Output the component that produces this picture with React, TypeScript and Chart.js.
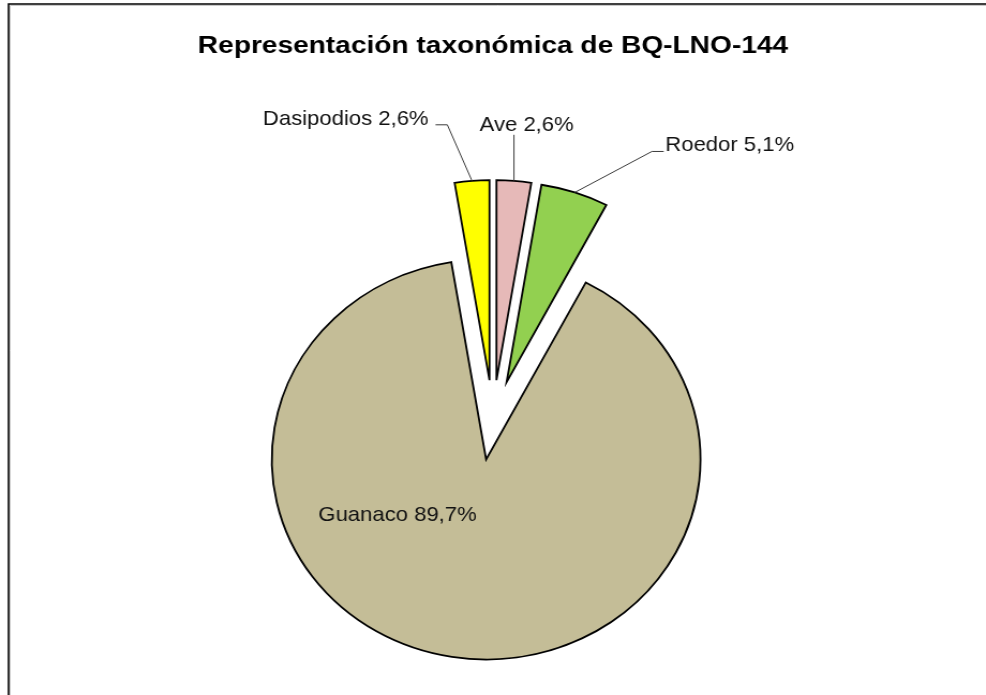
import React, { useEffect, useRef } from 'react';
import { Chart, registerables } from 'chart.js';

Chart.register(...registerables);

// ---- data ----
const TITLE = 'Representación taxonómica de BQ-LNO-144';
const categories = ['Ave', 'Roedor', 'Guanaco', 'Dasipodios'];
const percentages = [2.6, 5.1, 89.7, 2.6];
const colors = ['#E6B9B8', '#92D050', '#C4BD97', '#FFFF00'];

// ---- layout / style ----
const CANVAS_W = 920;
const CANVAS_H = 695;
const DISPLAY_W = 986;
const EXPLODE = 40;
const RADIUS = 200;
const FONT = '"Liberation Sans", Arial, Helvetica, sans-serif';
const TITLE_STRETCH = 1.14;

type Pt = [number, number];
type LabelLayout = {
  inside: boolean;
  leader: Pt[];
  textX: number;
  textY: number;
  align: CanvasTextAlign;
};

const labelLayouts: LabelLayout[] = [
  { inside: false, leader: [[0, 0], [0, -46]], textX: -32, textY: -50, align: 'left' },
  { inside: false, leader: [[0, 0], [72, -41], [83, -41]], textX: 84.5, textY: -41, align: 'left' },
  { inside: true, leader: [], textX: -156.5, textY: 62, align: 'left' },
  { inside: false, leader: [[0, 0], [-23, -56], [-34, -56]], textX: -40.5, textY: -56, align: 'right' },
];

const explodePlugin = {
  id: 'explodeSlices',
  beforeDatasetDraw(chart: any, args: any) {
    const meta = args.meta;
    meta.data.forEach((arc: any) => {
      if (arc.__exploded) return;
      const base = arc.draw;
      arc.draw = function (ctx: CanvasRenderingContext2D, area: any) {
        const mid = (this.startAngle + this.endAngle) / 2;
        ctx.save();
        ctx.translate(Math.cos(mid) * EXPLODE, Math.sin(mid) * EXPLODE);
        base.call(this, ctx, area);
        ctx.restore();
      };
      arc.__exploded = true;
    });
  },
};

const labelsPlugin = {
  id: 'sliceLabels',
  afterDatasetsDraw(chart: any) {
    const ctx: CanvasRenderingContext2D = chart.ctx;
    const meta = chart.getDatasetMeta(0);
    ctx.save();
    meta.data.forEach((arc: any, i: number) => {
      const lay = labelLayouts[i];
      const mid = (arc.startAngle + arc.endAngle) / 2;
      const dist = lay.inside ? EXPLODE : arc.outerRadius + EXPLODE;
      const ax = arc.x + Math.cos(mid) * dist;
      const ay = arc.y + Math.sin(mid) * dist;
      if (lay.leader.length > 1) {
        ctx.beginPath();
        ctx.strokeStyle = '#3a3a3a';
        ctx.lineWidth = 1;
        lay.leader.forEach(([dx, dy], k) => {
          if (k === 0) ctx.moveTo(ax + dx, ay + dy);
          else ctx.lineTo(ax + dx, ay + dy);
        });
        ctx.stroke();
      }
      const text = `${categories[i]} ${percentages[i].toFixed(1).replace('.', ',')}%`;
      ctx.font = `20.6px ${FONT}`;
      ctx.fillStyle = '#111';
      ctx.textAlign = lay.align;
      ctx.textBaseline = 'alphabetic';
      ctx.fillText(text, ax + lay.textX, ay + lay.textY);
    });
    ctx.restore();
  },
};

const framePlugin = {
  id: 'frameTitle',
  afterDraw(chart: any) {
    const ctx: CanvasRenderingContext2D = chart.ctx;
    ctx.save();
    // shadow
    ctx.strokeStyle = '#c8c8c8';
    ctx.lineWidth = 1;
    ctx.beginPath();
    ctx.moveTo(9.5, CANVAS_H);
    ctx.lineTo(9.5, 5.5);
    ctx.lineTo(CANVAS_W, 5.5);
    ctx.stroke();
    // frame
    ctx.strokeStyle = '#000';
    ctx.lineWidth = 1.6;
    ctx.beginPath();
    ctx.moveTo(8, CANVAS_H);
    ctx.lineTo(8, 4);
    ctx.lineTo(CANVAS_W, 4);
    ctx.stroke();
    ctx.restore();
    // title (slightly wide face, as in the reference)
    ctx.save();
    ctx.translate(CANVAS_W / 2, 53);
    ctx.scale(TITLE_STRETCH, 1);
    ctx.font = `bold 23px ${FONT}`;
    ctx.fillStyle = '#000';
    ctx.textAlign = 'center';
    ctx.textBaseline = 'alphabetic';
    ctx.fillText(TITLE, 0, 0);
    ctx.restore();
  },
};

export default function App() {
  const ref = useRef<HTMLCanvasElement | null>(null);
  useEffect(() => {
    if (!ref.current) return;
    const chart = new Chart(ref.current, {
      type: 'pie',
      data: {
        labels: categories,
        datasets: [
          {
            data: percentages,
            backgroundColor: colors,
            borderColor: '#000',
            borderWidth: 1.8,
            borderJoinStyle: 'miter',
            radius: RADIUS,
            rotation: 0,
          } as any,
        ],
      },
      options: {
        responsive: false,
        animation: false,
        devicePixelRatio: 1,
        events: [],
        radius: RADIUS,
        rotation: 0,
        layout: { padding: { top: 145, bottom: 0, left: 0, right: 0 } },
        plugins: {
          legend: { display: false },
          tooltip: { enabled: false },
          title: { display: false },
        },
      } as any,
      plugins: [explodePlugin, labelsPlugin, framePlugin],
    });
    return () => chart.destroy();
  }, []);
  return (
    <canvas
      ref={ref}
      width={CANVAS_W}
      height={CANVAS_H}
      style={{
        position: 'absolute',
        left: 0,
        top: 0,
        width: DISPLAY_W + 'px',
        height: CANVAS_H + 'px',
        display: 'block',
        background: '#fff',
      }}
    />
  );
}
